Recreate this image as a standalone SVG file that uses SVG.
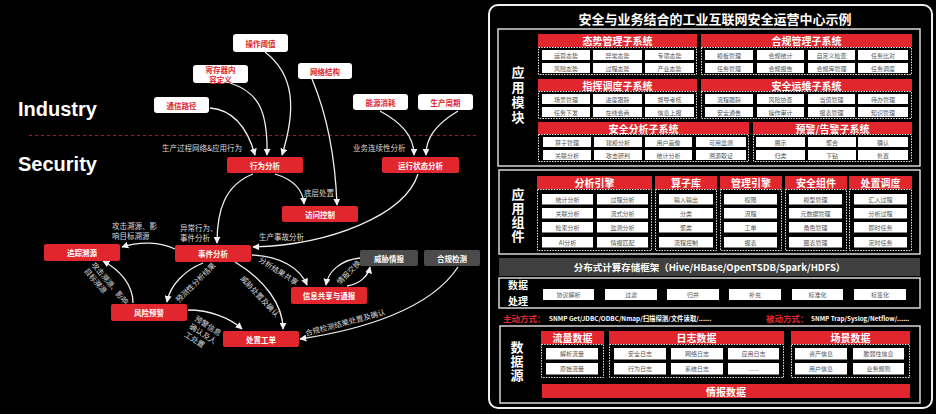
<svg xmlns="http://www.w3.org/2000/svg" width="936" height="414" viewBox="0 0 936 414">
<defs>
<marker id="ah" viewBox="0 0 10 10" refX="9" refY="5" markerWidth="7" markerHeight="7" markerUnits="userSpaceOnUse" orient="auto">
<path d="M0,0 L10,5 L0,10 z" fill="#f2f2f2"/>
</marker>
<style>
text{font-family:"Noto Sans CJK SC","Liberation Sans",sans-serif}
.rn{fill:#e1262d}
.wn{fill:#ffffff}
.gn{fill:#4b4b4b}
.nt{font-size:7.5px;font-weight:bold;fill:#fff;text-anchor:middle;dominant-baseline:central}
.it{font-size:7.5px;font-weight:bold;fill:#e1262d;text-anchor:middle;dominant-baseline:central}
.lb{font-size:7.5px;fill:#d8d8d8}
.con{fill:none;stroke:#eeeeee;stroke-width:1.3;marker-end:url(#ah)}
.en{font-family:"Liberation Sans",Arial,sans-serif;font-weight:bold;font-size:20px;fill:#fff}
.hd{fill:#e1262d}
.ht{font-size:10px;font-weight:bold;fill:#fff;text-anchor:middle;dominant-baseline:central}
.ib{fill:#fff}
.itx{font-size:6px;fill:#555;text-anchor:middle;dominant-baseline:central}
.dc{fill:none;stroke:#e8e8e8;stroke-width:1;stroke-dasharray:1.5 1.2}
.bx{fill:none;stroke:#d8d8d8;stroke-width:1.5}
.vp{font-size:10px;font-weight:bold;fill:#fff;text-anchor:middle}
.vv{font-size:13px;font-weight:bold;fill:#fff;text-anchor:middle;writing-mode:vertical-rl}
</style>
</defs>
<rect x="0" y="0" width="936" height="414" fill="#000"/>

<!-- left side -->
<text class="en" x="18" y="116">Industry</text>
<text class="en" x="18" y="171">Security</text>
<line x1="29" y1="135.5" x2="477" y2="135.5" stroke="#a01c22" stroke-width="1" stroke-dasharray="3 3"/>

<g id="connectors">
<path class="con" d="M210,108 C235,110 248,130 255,155"/>
<path class="con" d="M230,83 C258,92 268,110 267,155"/>
<path class="con" d="M265,52 C295,75 296,110 282,155"/>
<path class="con" d="M312,79 C325,110 335,150 337,205"/>
<path class="con" d="M380,111 C400,122 414,135 414,155"/>
<path class="con" d="M458,111 C435,125 426,138 426,155"/>
<path class="con" d="M253,174 C225,185 217,210 217,243"/>
<path class="con" d="M275,174 C295,180 303,190 304,204"/>
<path class="con" d="M418,174 C405,215 330,245 253,247"/>
<path class="con" d="M175,249 C160,242 140,241 122,247"/>
<path class="con" d="M133,303 C133,285 120,270 103,261"/>
<path class="con" d="M203,263 C185,270 170,285 167,302"/>
<path class="con" d="M235,262 C265,280 283,305 283,329"/>
<path class="con" d="M252,255 C280,256 300,268 307,285"/>
<path class="con" d="M188,310 C210,310 230,318 242,329"/>
<path class="con" d="M360,258 C340,260 328,272 326,285"/>
<path class="con" d="M347,286 C360,284 368,276 370,267"/>
<path class="con" d="M458,267 C430,310 360,330 300,339"/>
<text class="lb" x="162" y="151">生产过程网络&amp;应用行为</text>
<text class="lb" x="353" y="151">业务连续性分析</text>
<text class="lb" x="304" y="196">底层处置</text>
<text class="lb" x="180" y="231">异常行为、<tspan x="180" dy="10">事件分析</tspan></text>
<text class="lb" x="259" y="240">生产事故分析</text>
<text class="lb" x="112" y="229">攻击溯源、影<tspan x="112" dy="10">响目标溯源</tspan></text>
<text class="lb" transform="translate(91,265) rotate(50)">攻击溯源、影响<tspan x="0" dy="9.5">目标溯源</tspan></text>
<text class="lb" transform="translate(179,303) rotate(-45)">预测性分析结果</text>
<text class="lb" transform="translate(240,279) rotate(47)">威胁处置及确认</text>
<text class="lb" transform="translate(258,261) rotate(33)">分析结果共享</text>
<text class="lb" transform="translate(194,320) rotate(33)">预警信息<tspan x="0" dy="9.5">确认及人</tspan><tspan x="0" dy="9.5">工处置</tspan></text>
<text class="lb" transform="translate(340,285) rotate(-45)">情报交换</text>
<text class="lb" transform="translate(306,336) rotate(-15)">合规检测结果处置及确认</text>
</g>

<g id="n-czyz"><rect class="wn" x="233" y="34" width="55" height="18" rx="3"/><text class="it" x="260.5" y="43">操作阈值</text></g>
<g id="n-jcq"><rect class="wn" x="193" y="65" width="55" height="18" rx="3"/><text class="it" x="220.5" y="69.5" font-size="6.5">寄存器内<tspan x="220.5" dy="9.5">容定义</tspan></text></g>
<g id="n-wljg"><rect class="wn" x="298" y="63" width="54" height="16" rx="3"/><text class="it" x="325" y="71">网络结构</text></g>
<g id="n-txlj"><rect class="wn" x="154" y="97" width="55" height="16" rx="3"/><text class="it" x="181.5" y="105">通信路径</text></g>
<g id="n-nyxh"><rect class="wn" x="353" y="94" width="55" height="16" rx="3"/><text class="it" x="380.5" y="102">能源消耗</text></g>
<g id="n-sczq"><rect class="wn" x="418" y="94" width="55" height="16" rx="3"/><text class="it" x="445.5" y="102">生产周期</text></g>

<g id="n-xwfx"><rect class="rn" x="227" y="157" width="76" height="16" rx="2"/><text class="nt" x="265" y="165">行为分析</text></g>
<g id="n-yxzt"><rect class="rn" x="382" y="157" width="77" height="16" rx="2"/><text class="nt" x="420.5" y="165">运行状态分析</text></g>
<g id="n-fwkz"><rect class="rn" x="282" y="206" width="76" height="16" rx="2"/><text class="nt" x="320" y="214">访问控制</text></g>
<g id="n-sjfx"><rect class="rn" x="175" y="245" width="76" height="17" rx="2"/><text class="nt" x="213" y="253.5">事件分析</text></g>
<g id="n-zzsy"><rect class="rn" x="44" y="244" width="76" height="17" rx="2"/><text class="nt" x="82" y="252.5">追踪溯源</text></g>
<g id="n-fxyj"><rect class="rn" x="111" y="304" width="76" height="17" rx="2"/><text class="nt" x="149" y="312.5">风险预警</text></g>
<g id="n-czgd"><rect class="rn" x="223" y="331" width="76" height="16" rx="2"/><text class="nt" x="261" y="339">处置工单</text></g>
<g id="n-xxgx"><rect class="rn" x="291" y="287" width="76" height="17" rx="2"/><text class="nt" x="329" y="295.5">信息共享与通报</text></g>
<g id="n-wxqb"><rect class="gn" x="360" y="250" width="58" height="16" rx="2"/><text class="nt" x="389" y="258">威胁情报</text></g>
<g id="n-hgjc"><rect class="gn" x="424" y="250" width="56" height="16" rx="2"/><text class="nt" x="452" y="258">合规检测</text></g>

<!-- right panel -->
<g id="panel">
<rect x="489" y="5" width="443" height="403" rx="9" fill="none" stroke="#f0f0f0" stroke-width="2"/>
<text x="715" y="18" font-size="13" font-weight="bold" fill="#fff" text-anchor="middle" dominant-baseline="central">安全与业务结合的工业互联网安全运营中心示例</text>
</g>

<g id="app-modules">
<rect class="bx" x="498" y="29" width="422" height="137"/>
<text class="vv" x="518" y="96" letter-spacing="2">应用模块</text>
<!-- 态势管理 -->
<rect class="hd" x="538" y="34" width="159" height="13"/><text class="ht" x="617.5" y="40.5">态势管理子系统</text>
<rect class="dc" x="538.5" y="47.5" width="158" height="27"/>
<rect class="ib" x="542" y="50" width="48" height="10"/><text class="itx" x="566" y="55">运营态势</text>
<rect class="ib" x="593" y="50" width="49" height="10"/><text class="itx" x="617.5" y="55">异常态势</text>
<rect class="ib" x="645" y="50" width="49" height="10"/><text class="itx" x="669.5" y="55">专项态势</text>
<rect class="ib" x="542" y="63" width="48" height="10"/><text class="itx" x="566" y="68">风险态势</text>
<rect class="ib" x="593" y="63" width="49" height="10"/><text class="itx" x="617.5" y="68">过程态势</text>
<rect class="ib" x="645" y="63" width="49" height="10"/><text class="itx" x="669.5" y="68">产业态势</text>
<!-- 合规管理 -->
<rect class="hd" x="701" y="34" width="211" height="13"/><text class="ht" x="806.5" y="40.5">合规管理子系统</text>
<rect class="dc" x="701.5" y="47.5" width="210" height="27"/>
<rect class="ib" x="705" y="50" width="48" height="10"/><text class="itx" x="729" y="55">模板管理</text>
<rect class="ib" x="757" y="50" width="47" height="10"/><text class="itx" x="780.5" y="55">合规统计</text>
<rect class="ib" x="808" y="50" width="47" height="10"/><text class="itx" x="831.5" y="55">自定义检查</text>
<rect class="ib" x="858" y="50" width="50" height="10"/><text class="itx" x="883" y="55">任务比对</text>
<rect class="ib" x="705" y="63" width="48" height="10"/><text class="itx" x="729" y="68">任务管理</text>
<rect class="ib" x="757" y="63" width="47" height="10"/><text class="itx" x="780.5" y="68">合规报告</text>
<rect class="ib" x="808" y="63" width="47" height="10"/><text class="itx" x="831.5" y="68">合规库管理</text>
<rect class="ib" x="858" y="63" width="50" height="10"/><text class="itx" x="883" y="68">任务调度</text>
<!-- 指挥调度 -->
<rect class="hd" x="538" y="79" width="159" height="12"/><text class="ht" x="617.5" y="85">指挥调度子系统</text>
<rect class="dc" x="538.5" y="91.5" width="158" height="27"/>
<rect class="ib" x="542" y="94" width="48" height="10"/><text class="itx" x="566" y="99">场景管理</text>
<rect class="ib" x="593" y="94" width="49" height="10"/><text class="itx" x="617.5" y="99">进度跟踪</text>
<rect class="ib" x="645" y="94" width="49" height="10"/><text class="itx" x="669.5" y="99">督导考核</text>
<rect class="ib" x="542" y="107" width="48" height="10"/><text class="itx" x="566" y="112">任务下发</text>
<rect class="ib" x="593" y="107" width="49" height="10"/><text class="itx" x="617.5" y="112">在线会商</text>
<rect class="ib" x="645" y="107" width="49" height="10"/><text class="itx" x="669.5" y="112">信息上报</text>
<!-- 安全运维 -->
<rect class="hd" x="701" y="79" width="211" height="12"/><text class="ht" x="806.5" y="85">安全运维子系统</text>
<rect class="dc" x="701.5" y="91.5" width="210" height="27"/>
<rect class="ib" x="705" y="94" width="48" height="10"/><text class="itx" x="729" y="99">流程跟踪</text>
<rect class="ib" x="757" y="94" width="47" height="10"/><text class="itx" x="780.5" y="99">风险协查</text>
<rect class="ib" x="808" y="94" width="47" height="10"/><text class="itx" x="831.5" y="99">当值管理</text>
<rect class="ib" x="858" y="94" width="50" height="10"/><text class="itx" x="883" y="99">待办管理</text>
<rect class="ib" x="705" y="107" width="48" height="10"/><text class="itx" x="729" y="112">安全通告</text>
<rect class="ib" x="757" y="107" width="47" height="10"/><text class="itx" x="780.5" y="112">操作审计</text>
<rect class="ib" x="808" y="107" width="47" height="10"/><text class="itx" x="831.5" y="112">报表管理</text>
<rect class="ib" x="858" y="107" width="50" height="10"/><text class="itx" x="883" y="112">知识管理</text>
<!-- 安全分析 -->
<rect class="hd" x="538" y="122" width="211" height="12"/><text class="ht" x="643.5" y="128">安全分析子系统</text>
<rect class="dc" x="538.5" y="134.5" width="210" height="27"/>
<rect class="ib" x="543" y="137" width="48" height="10"/><text class="itx" x="567" y="142">算子管理</text>
<rect class="ib" x="594" y="137" width="48" height="10"/><text class="itx" x="618" y="142">建模分析</text>
<rect class="ib" x="645" y="137" width="47" height="10"/><text class="itx" x="668.5" y="142">用户画像</text>
<rect class="ib" x="696" y="137" width="50" height="10"/><text class="itx" x="721" y="142">可用监测</text>
<rect class="ib" x="543" y="150" width="48" height="10"/><text class="itx" x="567" y="155">关联分析</text>
<rect class="ib" x="594" y="150" width="48" height="10"/><text class="itx" x="618" y="155">攻击研判</text>
<rect class="ib" x="645" y="150" width="47" height="10"/><text class="itx" x="668.5" y="155">统计分析</text>
<rect class="ib" x="696" y="150" width="50" height="10"/><text class="itx" x="721" y="155">溯源取证</text>
<!-- 预警告警 -->
<rect class="hd" x="753" y="122" width="159" height="12"/><text class="ht" x="832.5" y="128">预警/告警子系统</text>
<rect class="dc" x="753.5" y="134.5" width="158" height="27"/>
<rect class="ib" x="756" y="137" width="49" height="10"/><text class="itx" x="780.5" y="142">展示</text>
<rect class="ib" x="808" y="137" width="48" height="10"/><text class="itx" x="832" y="142">聚合</text>
<rect class="ib" x="858" y="137" width="50" height="10"/><text class="itx" x="883" y="142">确认</text>
<rect class="ib" x="756" y="150" width="49" height="10"/><text class="itx" x="780.5" y="155">归类</text>
<rect class="ib" x="808" y="150" width="48" height="10"/><text class="itx" x="832" y="155">下钻</text>
<rect class="ib" x="858" y="150" width="50" height="10"/><text class="itx" x="883" y="155">处置</text>
</g>

<g id="app-components">
<rect class="bx" x="499" y="170" width="421" height="84"/>
<text class="vv" x="518" y="216" letter-spacing="1">应用组件</text>
<rect class="hd" x="537" y="176" width="115" height="13"/><text class="ht" x="594.5" y="182.5" font-size="11">分析引擎</text>
<rect class="hd" x="655" y="176" width="62" height="13"/><text class="ht" x="686" y="182.5">算子库</text>
<rect class="hd" x="720" y="176" width="62" height="13"/><text class="ht" x="751" y="182.5">管理引擎</text>
<rect class="hd" x="785" y="176" width="62" height="13"/><text class="ht" x="816" y="182.5">安全组件</text>
<rect class="hd" x="849" y="176" width="63" height="13"/><text class="ht" x="880.5" y="182.5">处置调度</text>
<rect class="dc" x="537.5" y="189.5" width="114" height="61"/>
<rect class="dc" x="655.5" y="189.5" width="61" height="61"/>
<rect class="dc" x="720.5" y="189.5" width="61" height="61"/>
<rect class="dc" x="785.5" y="189.5" width="61" height="61"/>
<rect class="dc" x="849.5" y="189.5" width="62" height="61"/>
<rect class="ib" x="542" y="194" width="51" height="10.5"/><text class="itx" x="567.5" y="199.2">统计分析</text>
<rect class="ib" x="597" y="194" width="51" height="10.5"/><text class="itx" x="622.5" y="199.2">过程分析</text>
<rect class="ib" x="542" y="208" width="51" height="10.5"/><text class="itx" x="567.5" y="213.2">关联分析</text>
<rect class="ib" x="597" y="208" width="51" height="10.5"/><text class="itx" x="622.5" y="213.2">流式分析</text>
<rect class="ib" x="542" y="222" width="51" height="10.5"/><text class="itx" x="567.5" y="227.2">检索分析</text>
<rect class="ib" x="597" y="222" width="51" height="10.5"/><text class="itx" x="622.5" y="227.2">监测分析</text>
<rect class="ib" x="542" y="237" width="51" height="10.5"/><text class="itx" x="567.5" y="242.2">AI分析</text>
<rect class="ib" x="597" y="237" width="51" height="10.5"/><text class="itx" x="622.5" y="242.2">情报匹配</text>
<rect class="ib" x="659" y="194" width="54" height="10.5"/><text class="itx" x="686" y="199.2">输入输出</text>
<rect class="ib" x="659" y="208" width="54" height="10.5"/><text class="itx" x="686" y="213.2">分类</text>
<rect class="ib" x="659" y="222" width="54" height="10.5"/><text class="itx" x="686" y="227.2">聚类</text>
<rect class="ib" x="659" y="237" width="54" height="10.5"/><text class="itx" x="686" y="242.2">流程控制</text>
<rect class="ib" x="724" y="194" width="53" height="10.5"/><text class="itx" x="750.5" y="199.2">权限</text>
<rect class="ib" x="724" y="208" width="53" height="10.5"/><text class="itx" x="750.5" y="213.2">流程</text>
<rect class="ib" x="724" y="222" width="53" height="10.5"/><text class="itx" x="750.5" y="227.2">工单</text>
<rect class="ib" x="724" y="237" width="53" height="10.5"/><text class="itx" x="750.5" y="242.2">报表</text>
<rect class="ib" x="789" y="194" width="53" height="10.5"/><text class="itx" x="815.5" y="199.2">模型管理</text>
<rect class="ib" x="789" y="208" width="53" height="10.5"/><text class="itx" x="815.5" y="213.2">元数据管理</text>
<rect class="ib" x="789" y="222" width="53" height="10.5"/><text class="itx" x="815.5" y="227.2">角色管理</text>
<rect class="ib" x="789" y="237" width="53" height="10.5"/><text class="itx" x="815.5" y="242.2">图表管理</text>
<rect class="ib" x="854" y="194" width="53" height="10.5"/><text class="itx" x="880.5" y="199.2">汇入过程</text>
<rect class="ib" x="854" y="208" width="53" height="10.5"/><text class="itx" x="880.5" y="213.2">分析过程</text>
<rect class="ib" x="854" y="222" width="53" height="10.5"/><text class="itx" x="880.5" y="227.2">即时任务</text>
<rect class="ib" x="854" y="237" width="53" height="10.5"/><text class="itx" x="880.5" y="242.2">定时任务</text>
</g>

<g id="storage">
<rect x="499" y="258" width="421" height="18" fill="#3f3f3f"/>
<text x="709.5" y="267" font-size="9.5" font-weight="bold" fill="#fff" text-anchor="middle" dominant-baseline="central">分布式计算存储框架（Hive/HBase/OpenTSDB/Spark/HDFS）</text>
</g>

<g id="data-processing">
<rect class="bx" x="499" y="278" width="421" height="30"/>
<text class="vp" x="518" y="289">数据</text>
<text class="vp" x="518" y="305">处理</text>
<rect class="ib" x="543" y="289" width="51" height="11"/><text class="itx" x="568.5" y="294.5">协议解析</text>
<rect class="ib" x="605" y="289" width="52" height="11"/><text class="itx" x="631" y="294.5">过滤</text>
<rect class="ib" x="667" y="289" width="52" height="11"/><text class="itx" x="693" y="294.5">归并</text>
<rect class="ib" x="729" y="289" width="52" height="11"/><text class="itx" x="755" y="294.5">补充</text>
<rect class="ib" x="792" y="289" width="51" height="11"/><text class="itx" x="817.5" y="294.5">标准化</text>
<rect class="ib" x="854" y="289" width="52" height="11"/><text class="itx" x="880" y="294.5">标签化</text>
</g>

<g id="collect">
<text x="503" y="318" font-size="8.5" font-weight="bold" fill="#e1262d" dominant-baseline="central">主动方式：</text>
<text x="549" y="318" font-size="6.4" font-weight="bold" fill="#fff" dominant-baseline="central">SNMP Get/JDBC/ODBC/Nmap/扫描探测/文件读取/......</text>
<text x="766" y="318" font-size="8.5" font-weight="bold" fill="#e1262d" dominant-baseline="central">被动方式：</text>
<text x="811" y="318" font-size="6.3" font-weight="bold" fill="#fff" dominant-baseline="central">SNMP Trap/Syslog/Netflow/......</text>
</g>

<g id="data-source">
<rect class="bx" x="500" y="326" width="420" height="77"/>
<text class="vv" x="517" y="362" font-size="12.5" letter-spacing="1">数据源</text>
<rect class="hd" x="541" y="331" width="63" height="13"/><text class="ht" x="572.5" y="337.5" font-size="10.5">流量数据</text>
<rect class="hd" x="609" y="331" width="175" height="13"/><text class="ht" x="696.5" y="337.5" font-size="10.5">日志数据</text>
<rect class="hd" x="791" y="331" width="119" height="13"/><text class="ht" x="850.5" y="337.5" font-size="10.5">场景数据</text>
<rect class="dc" x="541.5" y="344.5" width="62" height="33"/>
<rect class="dc" x="609.5" y="344.5" width="174" height="33"/>
<rect class="dc" x="791.5" y="344.5" width="118" height="33"/>
<rect class="ib" x="546" y="348" width="52" height="11.5"/><text class="itx" x="572" y="353.8">解析流量</text>
<rect class="ib" x="546" y="363" width="52" height="11.5"/><text class="itx" x="572" y="368.8">原始流量</text>
<rect class="ib" x="614" y="348" width="52" height="11.5"/><text class="itx" x="640" y="353.8">安全日志</text>
<rect class="ib" x="671" y="348" width="52" height="11.5"/><text class="itx" x="697" y="353.8">网络日志</text>
<rect class="ib" x="728" y="348" width="51" height="11.5"/><text class="itx" x="753.5" y="353.8">应用日志</text>
<rect class="ib" x="614" y="363" width="52" height="11.5"/><text class="itx" x="640" y="368.8">行为日志</text>
<rect class="ib" x="671" y="363" width="52" height="11.5"/><text class="itx" x="697" y="368.8">系统日志</text>
<rect class="ib" x="728" y="363" width="51" height="11.5"/><text class="itx" x="753.5" y="368.8">......</text>
<rect class="ib" x="795" y="348" width="52" height="11.5"/><text class="itx" x="821" y="353.8">资产信息</text>
<rect class="ib" x="853" y="348" width="51" height="11.5"/><text class="itx" x="878.5" y="353.8">脆弱性信息</text>
<rect class="ib" x="795" y="363" width="52" height="11.5"/><text class="itx" x="821" y="368.8">用户信息</text>
<rect class="ib" x="853" y="363" width="51" height="11.5"/><text class="itx" x="878.5" y="368.8">业务规则</text>
<rect class="hd" x="542" y="384" width="368" height="14"/><text class="ht" x="726" y="391" font-size="10.5">情报数据</text>
</g>
</svg>
